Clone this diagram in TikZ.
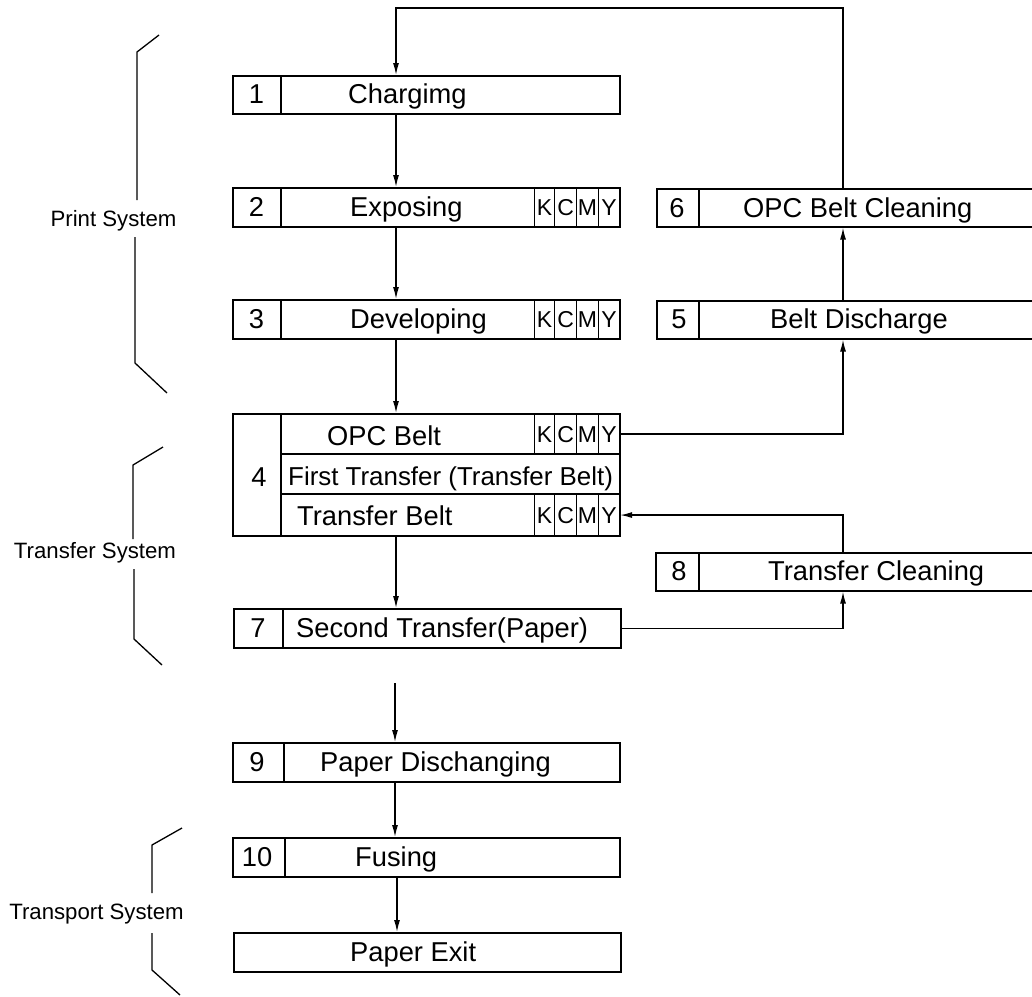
\documentclass[tikz,border=0pt]{standalone}
\usepackage{fontspec}
\setmainfont{Liberation Sans}
\usetikzlibrary{arrows.meta}
\begin{document}
\begin{tikzpicture}[x=1pt,y=-1pt,
  bx/.style={draw,line width=1.6pt,rectangle,inner sep=0pt,anchor=north west},
  cell/.style={draw,line width=1.1pt,rectangle,inner sep=0pt,anchor=north west,font=\fontsize{23}{25}\selectfont,text height=16.5pt,text depth=0pt},
  txt/.style={inner sep=0pt,font=\fontsize{27.3}{30}\selectfont,text height=19.5pt,text depth=0pt},
  txtn/.style={inner sep=0pt,font=\fontsize{25.9}{28}\selectfont,text height=18.5pt,text depth=0pt},
  side/.style={inner sep=0pt,font=\fontsize{22.2}{24}\selectfont,text height=15.9pt,text depth=0pt},
  dv/.style={line width=1.1pt},
  ln/.style={line width=1.3pt},
  arr/.style={line width=1.3pt,-{Latex[length=12pt,width=6pt]}},
]
\useasboundingbox (0,0) rectangle (1032,996);
\clip (0,0) rectangle (1032,996);
\newcommand\kcmyrow[3]{%
  \node[cell,minimum width=20pt,minimum height=#3] (#1k) at (534,#2) {K};
  \node[cell,minimum width=22pt,minimum height=#3] (#1c) at (554,#2) {C};
  \node[cell,minimum width=22pt,minimum height=#3] (#1m) at (576,#2) {M};
  \node[cell,minimum width=21pt,minimum height=#3] (#1y) at (598,#2) {Y};}

% main column boxes
\node[bx,minimum width=387pt,minimum height=38pt] (b1) at (232,75) {};
\node[bx,minimum width=387pt,minimum height=39pt] (b2) at (232,187) {};
\node[bx,minimum width=387pt,minimum height=39pt] (b3) at (232,299) {};
\node[bx,minimum width=387pt,minimum height=122pt] (b4) at (232,413) {};
\node[bx,minimum width=387pt,minimum height=39pt] (b7) at (233,608) {};
\node[bx,minimum width=387pt,minimum height=39pt] (b9) at (232,742) {};
\node[bx,minimum width=387pt,minimum height=39pt] (b10) at (232,837) {};
\node[bx,minimum width=387pt,minimum height=39pt] (bx11) at (233,932) {};
% right column boxes (run off the right edge)
\node[bx,minimum width=400pt,minimum height=38pt] (b6) at (656,188) {};
\node[bx,minimum width=400pt,minimum height=38pt] (b5) at (656,300) {};
\node[bx,minimum width=400pt,minimum height=38pt] (b8) at (655,552) {};

% dividers
\draw[dv] (281,75) -- (281,113);
\draw[dv] (281,187) -- (281,226);
\draw[dv] (281,299) -- (281,338);
\draw[dv] (281,413) -- (281,535);
\draw[dv] (281,454) -- (619,454);
\draw[dv] (281,494) -- (619,494);
\draw[dv] (283,608) -- (283,647);
\draw[dv] (284,742) -- (284,781);
\draw[dv] (285,837) -- (285,876);
\draw[dv] (699,188) -- (699,226);
\draw[dv] (699,300) -- (699,338);
\draw[dv] (699,552) -- (699,590);

% KCMY cells
\kcmyrow{e}{187}{39pt}
\kcmyrow{d}{299}{39pt}
\kcmyrow{o}{413}{41pt}
\kcmyrow{t}{494}{41pt}

% texts
\node[txt] (n1) at (256.5,94) {1};
\node[txt,anchor=west] (t1) at (348,94) {Chargimg};
\node[txt] (n2) at (256.5,207) {2};
\node[txt,anchor=west] (t2) at (350,207) {Exposing};
\node[txt] (n3) at (256.5,319) {3};
\node[txt,anchor=west] (t3) at (350,319) {Developing};
\node[txt] (n4) at (259,477) {4};
\node[txt,anchor=west] (t4a) at (327,436) {OPC Belt};
\node[txtn,anchor=west] (t4b) at (288,476.5) {First Transfer (Transfer Belt)};
\node[txt,anchor=west] (t4c) at (297,516) {Transfer Belt};
\node[txt] (n7) at (258,628) {7};
\node[txt,anchor=west] (t7) at (296,628) {Second Transfer(Paper)};
\node[txt] (n6) at (677,207.5) {6};
\node[txt,anchor=west] (t6) at (743,207.5) {OPC Belt Cleaning};
\node[txt] (n5) at (679,319) {5};
\node[txt,anchor=west] (t5) at (770,319) {Belt Discharge};
\node[txt] (n8) at (679,571) {8};
\node[txt,anchor=west] (t8) at (768,571) {Transfer Cleaning};
\node[txt] (n9) at (257,761.5) {9};
\node[txt,anchor=west] (t9) at (320,761.5) {Paper Dischanging};
\node[txt] (n10) at (257,856.5) {10};
\node[txt,anchor=west] (t10) at (355,856.5) {Fusing};
\node[txt,anchor=west] (t11) at (350,951.5) {Paper Exit};

% side labels and brackets
\node[side] (ps) at (113.5,219) {Print System};
\node[side] (ts) at (95,551) {Transfer System};
\node[side] (tp) at (96.5,912) {Transport System};
\draw[ln] (159,35) -- (137,52) -- (137,200);
\draw[ln] (135,237) -- (135,363) -- (167,393);
\draw[ln] (163,447) -- (133,465) -- (133,539);
\draw[ln] (134,569) -- (134,639) -- (162,665);
\draw[ln] (182,828) -- (152,845) -- (152,893);
\draw[ln] (152,933) -- (152,970) -- (180,995);

% connectors
\coordinate (mx) at (396,0);
\coordinate (rx) at (843,0);
\coordinate (s9) at (395,683);
\draw[arr] (b1.south -| mx) -- (b2.north -| mx);
\draw[arr] (b2.south -| mx) -- (b3.north -| mx);
\draw[arr] (b3.south -| mx) -- (b4.north -| mx);
\draw[arr] (b4.south -| mx) -- (b7.north -| mx);
\draw[arr] (s9) -- (b9.north -| s9);
\draw[arr] (b9.south -| s9) -- (b10.north -| s9);
\draw[arr] ([xshift=1pt]b10.south -| mx) -- ([xshift=1pt]bx11.north -| mx);
\draw[arr] (b5.north -| rx) -- (b6.south -| rx);
\draw[arr] (oy.east) -| (b5.south -| rx);
\draw[arr] (b8.north -| rx) |- (ty.east);
\draw[arr] (b7.east) -| (b8.south -| rx);
\draw[arr] (b6.north -| rx) -- ++(0,-180) -| (b1.north -| mx);
\end{tikzpicture}
\end{document}
